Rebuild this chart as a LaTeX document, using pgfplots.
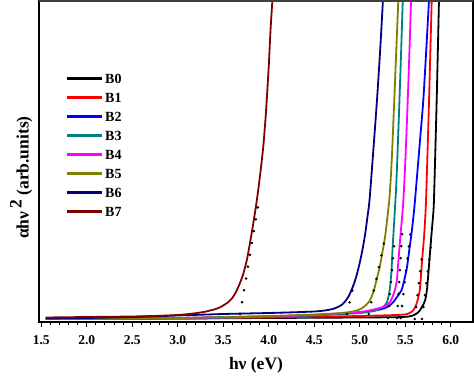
\documentclass[border=0pt]{standalone}
\usepackage{fontspec}
\setmainfont{Liberation Serif}
\usepackage{pgfplots}
\pgfplotsset{compat=1.18}
\definecolor{cB0}{HTML}{000000}
\definecolor{cB1}{HTML}{FF0000}
\definecolor{cB2}{HTML}{0000FF}
\definecolor{cB3}{HTML}{008080}
\definecolor{cB4}{HTML}{FF00FF}
\definecolor{cB5}{HTML}{808000}
\definecolor{cB6}{HTML}{000080}
\definecolor{cB7}{HTML}{800000}
\pgfplotsset{tang/.style={black, line width=2.8pt, line cap=round, dash pattern=on 0pt off 12pt, forget plot}}
\begin{document}
\begin{tikzpicture}
\begin{axis}[
  scale only axis, width=434pt, height=321pt,
  xmin=1.4758, xmax=6.245, ymin=0, ymax=321,
  axis line style={line width=1.2pt},
  xtick={1.5,2.0,...,6.0},
  minor x tick num=4,
  ytick=\empty,
  xtick pos=bottom,
  tick align=outside,
  major tick length=5pt, minor tick length=3pt,
  every tick/.style={black, line width=1pt},
  xticklabel style={yshift=-5pt, /pgf/number format/.cd, fixed, fixed zerofill, precision=1, assume math mode=true},
  ticklabel style={font=\fontsize{13.5}{15}\selectfont\bfseries},
  xlabel={\fontsize{17.5}{20}\selectfont\bfseries hν (eV)},
  ylabel={\fontsize{17.5}{20}\selectfont\bfseries αhν\,\raisebox{0.9ex}{2} (arb.units)},
  xlabel style={yshift=-6pt},
  ylabel style={at={(ticklabel cs:0.45)}, yshift=-2pt},
  legend style={draw=none, fill=none, at={(rel axis cs:0.055,0.785)}, anchor=north west,
    font=\fontsize{14}{16}\selectfont\bfseries,
    nodes={inner sep=1.5pt, text height=10pt, text depth=0pt}, row sep=6pt},
  legend cell align=left,
  legend image code/.code={\draw[#1, line width=2.6pt, solid] (0pt,0pt) -- (35pt,0pt);},
  every axis plot/.append style={line width=1.8pt, mark=none},
  after end axis/.code={\draw[line width=2.6pt, black!75] (rel axis cs:0,1) -- (rel axis cs:1,1);},
]
% B0
\addplot[cB0, smooth, tension=0.4] coordinates {
(1.55,3) (3.0,3.5) (4.0,4) (5.0,4.5) (5.4,4.8) (5.52,5.3) (5.58,6.3) (5.63,8.7) (5.66,11.5) (5.69,16) (5.72,22) (5.74,33) (5.76,55) (5.775,72) (5.79,89) (5.805,105) (5.816,122) (5.846,222) (5.871,321)};
\addlegendentry{B0}
% B1
\addplot[cB1, smooth, tension=0.4] coordinates {
(1.55,3) (3.0,3.5) (4.0,4.5) (5.0,6) (5.4,7) (5.5,7.6) (5.55,9) (5.59,12) (5.62,17) (5.64,23) (5.66,32) (5.67,42) (5.68,55) (5.695,72) (5.71,89) (5.729,122) (5.762,222) (5.791,321)};
\addlegendentry{B1}
% B2
\addplot[cB2, smooth, tension=0.4] coordinates {
(1.55,3) (3.0,4) (4.0,5.5) (4.5,7) (5.0,9.5) (5.2,12) (5.28,14) (5.33,16.5) (5.37,20) (5.41,25) (5.46,32) (5.49,42) (5.52,55) (5.545,72) (5.57,89) (5.59,105) (5.608,122) (5.663,182) (5.699,222) (5.73,270) (5.761,321)};
\addlegendentry{B2}
% B3
\addplot[cB3, smooth, tension=0.4] coordinates {
(1.55,3) (3.0,3.5) (4.0,5) (4.5,6.5) (5.0,9) (5.15,11) (5.22,13) (5.27,16) (5.3,20) (5.32,27) (5.335,36) (5.35,52) (5.36,72) (5.372,90) (5.385,110) (5.398,130) (5.412,160) (5.425,192) (5.437,222) (5.455,270) (5.473,321)};
\addlegendentry{B3}
% B4
\addplot[cB4, smooth, tension=0.4] coordinates {
(1.55,3) (3.0,4) (4.0,5.5) (4.5,7) (5.0,10) (5.2,13.5) (5.28,16) (5.33,19.5) (5.36,25) (5.39,33) (5.41,43) (5.42,55) (5.435,72) (5.45,89) (5.465,104) (5.48,122) (5.495,148) (5.51,180) (5.523,210) (5.535,240) (5.55,280) (5.564,321)};
\addlegendentry{B4}
% B5
\addplot[cB5, smooth, tension=0.4] coordinates {
(1.55,3) (2.5,3.5) (3.0,4) (3.5,5) (4.0,6) (4.5,7.5) (4.8,9) (4.95,11) (5.02,13.5) (5.07,17) (5.1,20) (5.13,25) (5.16,33) (5.19,44) (5.22,55) (5.25,70) (5.28,86) (5.305,105) (5.325,122) (5.342,145) (5.356,170) (5.368,196) (5.38,222) (5.402,272) (5.424,321)};
\addlegendentry{B5}
% B6
\addplot[cB6, smooth, tension=0.4] coordinates {
(1.55,3.5) (2.0,4) (2.5,5) (3.0,6.5) (3.5,8) (4.0,9) (4.3,9.8) (4.5,10.5) (4.6,11.3) (4.67,12.3) (4.72,13.5) (4.76,15) (4.8,17) (4.84,20.5) (4.88,26) (4.91,32) (4.94,39) (4.97,48) (5.0,59) (5.03,72) (5.06,88) (5.085,105) (5.108,122) (5.15,172) (5.19,222) (5.225,272) (5.255,321)};
\addlegendentry{B6}
% B7
\addplot[cB7, smooth, tension=0.4] coordinates {
(1.55,4.5) (2.0,5) (2.5,5.5) (2.8,6.2) (3.0,7) (3.1,7.8) (3.2,8.8) (3.3,10.3) (3.4,12.5) (3.46,14.5) (3.5,16.5) (3.55,19.5) (3.6,24) (3.64,30) (3.68,38) (3.72,48) (3.76,62) (3.8,82) (3.84,104) (3.87,122) (3.9,143) (3.94,175) (3.97,210) (4.0,255) (4.02,292) (4.04,321)};
\addlegendentry{B7}
% tangent fits (dotted)
\addplot[tang] coordinates {(3.685,8) (3.90,125)};
\addplot[tang] coordinates {(4.86,8) (4.93,36)};
\addplot[tang] coordinates {(5.10,8) (5.27,80)};
\addplot[tang] coordinates {(5.31,4) (5.385,85)};
\addplot[tang] coordinates {(5.41,4) (5.47,95)};
\addplot[tang] coordinates {(5.45,4) (5.565,95)};
\addplot[tang] coordinates {(5.605,3) (5.69,70)};
\addplot[tang] coordinates {(5.685,3) (5.785,78)};
\end{axis}
\pgfresetboundingbox
\path[use as bounding box] ([shift={(-39pt,-53pt)}]current axis.south west) rectangle ([shift={(1pt,1pt)}]current axis.north east);
\end{tikzpicture}
\end{document}
